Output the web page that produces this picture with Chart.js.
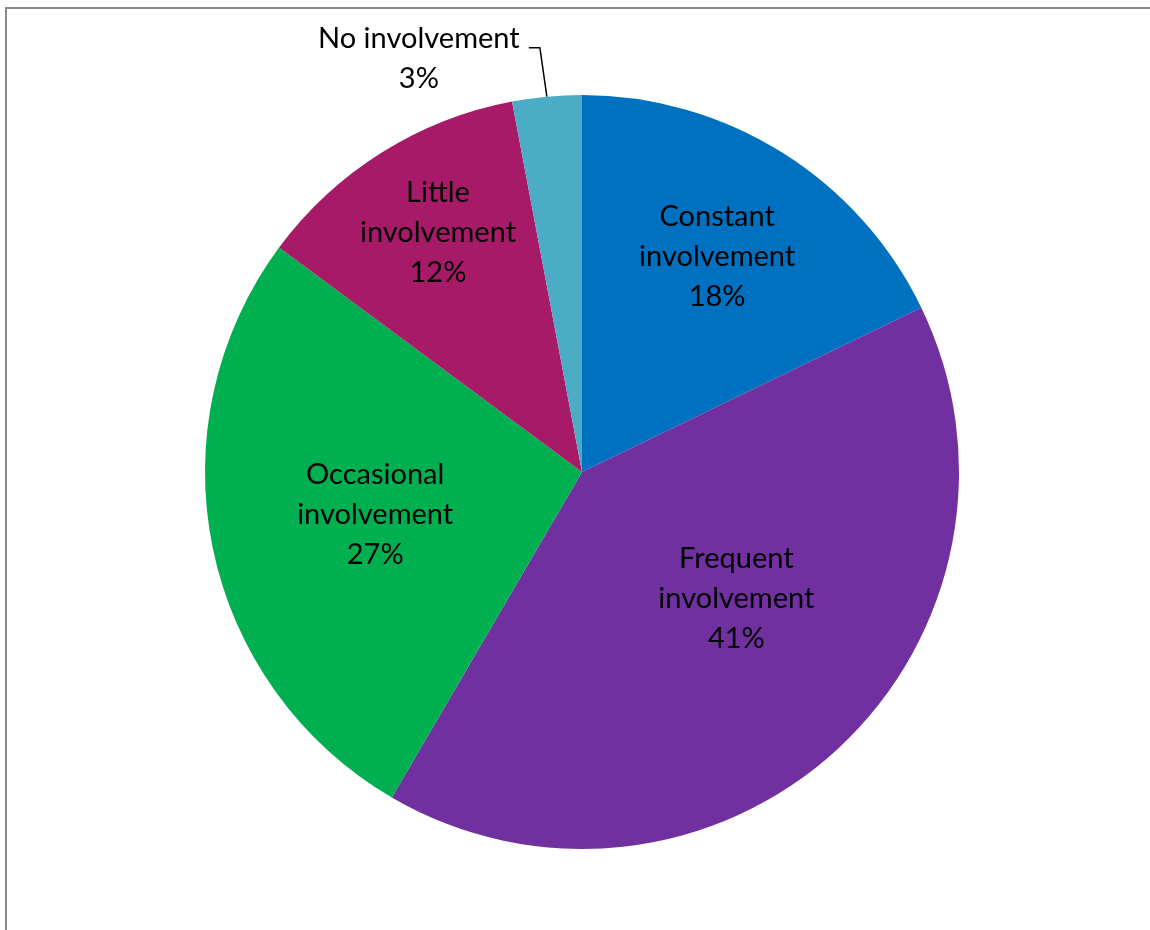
<!DOCTYPE html>
<html>
<head>
<meta charset="utf-8">
<script src="https://cdn.jsdelivr.net/npm/chart.js@4/dist/chart.umd.min.js"></script>
<style>
  html, body { margin: 0; padding: 0; background: #fff; overflow: hidden; }
  #wrap { position: relative; width: 1150px; height: 930px; }
  #frame {
    position: absolute; left: 5px; top: 7px; width: 1200px; height: 1000px;
    border-left: 2px solid #888; border-top: 2px solid #888;
  }
  #graficoPie { position: absolute; left: 0; top: 0; }
</style>
</head>
<body>
<div id="wrap">
  <div id="frame"></div>
  <canvas id="graficoPie" width="1150" height="930"></canvas>
</div>
<script>
// Nivel de participación
const categorias = ["Constant involvement", "Frequent involvement", "Occasional involvement", "Little involvement", "No involvement"];
const porcentajes = [18, 41, 27, 12, 3];
const colores = ["#0070C0", "#7030A0", "#00B050", "#A61A68", "#4BACC6"];

// Posición de cada etiqueta: fracción del radio y giro en grados
const posEtiquetas = [
  { r: 0.675, giro: 0 },
  { r: 0.53, giro: -7.8 },
  { r: 0.56, giro: 0 },
  { r: 0.74, giro: 1 },
  { fuera: true }
];

const FUENTE = '29px Lato';
const ALTO_LINEA = 40;

const etiquetasPie = {
  id: "etiquetasPie",
  afterDatasetsDraw(chart) {
    const ctx = chart.ctx;
    const meta = chart.getDatasetMeta(0);
    ctx.save();
    ctx.font = FUENTE;
    ctx.fillStyle = "#000";
    ctx.textAlign = "center";
    ctx.textBaseline = "middle";

    meta.data.forEach((arc, i) => {
      const valor = porcentajes[i] + "%";
      const pos = posEtiquetas[i];
      const medio = (arc.startAngle + arc.endAngle) / 2;

      if (pos.fuera) {
        // etiqueta fuera del pastel con línea guía
        const bx = arc.x + Math.cos(medio) * arc.outerRadius;
        const by = arc.y + Math.sin(medio) * arc.outerRadius;
        const codoX = bx - 7, codoY = by - 49;
        ctx.strokeStyle = "#000";
        ctx.lineWidth = 1.5;
        ctx.beginPath();
        ctx.moveTo(bx, by);
        ctx.lineTo(codoX, codoY);
        ctx.lineTo(codoX - 11, codoY);
        ctx.stroke();
        const cx = bx - 128, cy = by - 38;
        ctx.fillText(categorias[i], cx, cy - ALTO_LINEA / 2);
        ctx.fillText(valor, cx, cy + ALTO_LINEA / 2);
        return;
      }

      const ang = medio + pos.giro * Math.PI / 180;
      const cx = arc.x + Math.cos(ang) * arc.outerRadius * pos.r;
      const cy = arc.y + Math.sin(ang) * arc.outerRadius * pos.r;
      const partes = categorias[i].split(" ");
      const lineas = [partes[0], partes.slice(1).join(" "), valor];
      lineas.forEach((t, k) => {
        ctx.fillText(t, cx, cy + (k - 1) * ALTO_LINEA);
      });
    });
    ctx.restore();
  }
};

new Chart(document.getElementById("graficoPie"), {
  type: "pie",
  data: {
    labels: categorias,
    datasets: [{
      data: porcentajes,
      backgroundColor: colores,
      borderWidth: 0
    }]
  },
  options: {
    responsive: false,
    animation: false,
    layout: { padding: { left: 205, top: 95, right: 191, bottom: 81 } },
    plugins: {
      legend: { display: false },
      tooltip: { enabled: false }
    }
  },
  plugins: [etiquetasPie]
});
</script>
</body>
</html>
